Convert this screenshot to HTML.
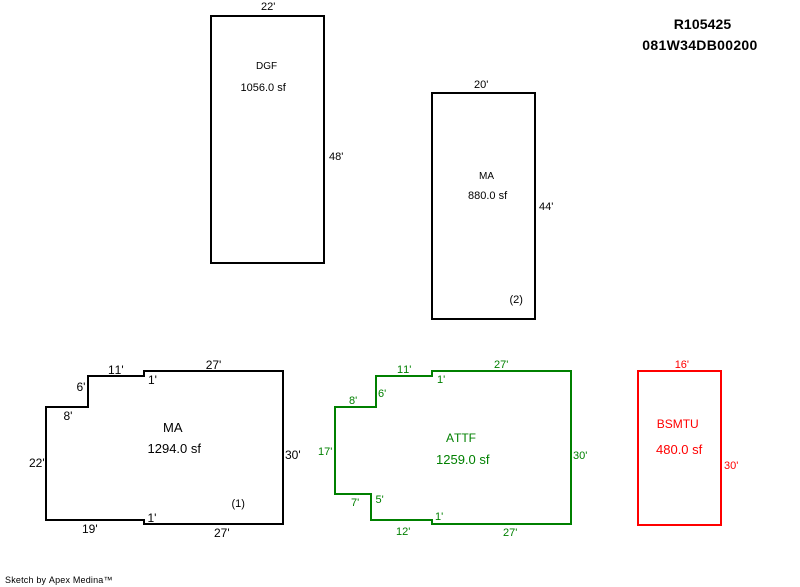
<!DOCTYPE html>
<html>
<head>
<meta charset="utf-8">
<style>
html,body{margin:0;padding:0;background:#fff}
svg{display:block}
text{font-family:"Liberation Sans",Arial,sans-serif;font-size:11px;fill:#000;white-space:pre;font-kerning:none}
.s{font-size:10px}
.m{font-size:12px}
.l{font-size:13px}
.g text{fill:#008000}
.r text{fill:#ff0000}
.t{font-size:14px;font-weight:bold}
.f{font-size:9px}
polygon{fill:none;stroke-width:2;shape-rendering:crispEdges}
</style>
</head>
<body>
<svg width="800" height="587" viewBox="0 0 800 587" xmlns="http://www.w3.org/2000/svg">
<rect width="800" height="587" fill="#fff"/>

<polygon points="211,16 324,16 324,263 211,263" stroke="#000"/>
<text x="261" y="10">22'</text>
<text x="329" y="160">48'</text>
<text class="s" x="256" y="69">DGF</text>
<text x="240.5" y="91">1056.0 sf</text>

<polygon points="432,93 535,93 535,319 432,319" stroke="#000"/>
<text x="474" y="88">20'</text>
<text x="539" y="210">44'</text>
<text class="s" x="479" y="179">MA</text>
<text x="468" y="199">880.0 sf</text>
<text x="509.5" y="303">(2)</text>

<text class="t" x="673.7" y="29" textLength="57.5">R105425</text>
<text class="t" x="642.3" y="50" textLength="115">081W34DB00200</text>

<polygon points="46,407 88,407 88,376 144,376 144,371 283,371 283,524 144,524 144,520 46,520" stroke="#000"/>
<text class="m" x="205.7" y="369">27'</text>
<text class="m" x="108" y="374">11'</text>
<text class="m" x="76.5" y="391">6'</text>
<text class="m" x="63.5" y="420">8'</text>
<text class="m" x="148" y="384">1'</text>
<text class="m" x="29" y="467">22'</text>
<text class="m" x="82" y="533">19'</text>
<text class="m" x="147.5" y="522">1'</text>
<text class="m" x="214" y="537">27'</text>
<text class="m" x="285" y="459">30'</text>
<text class="l" x="163" y="432">MA</text>
<text class="l" x="147.5" y="453">1294.0 sf</text>
<text x="231.5" y="507">(1)</text>

<g class="g">
<polygon points="335,407 376,407 376,376 432,376 432,371 571,371 571,524 432,524 432,520 371,520 371,494 335,494" stroke="#008000"/>
<text x="494" y="368">27'</text>
<text x="397" y="373">11'</text>
<text x="437" y="383">1'</text>
<text x="378" y="397">6'</text>
<text x="349" y="404">8'</text>
<text x="318" y="455">17'</text>
<text x="351" y="506">7'</text>
<text x="375.5" y="503">5'</text>
<text x="435" y="520">1'</text>
<text x="396" y="535">12'</text>
<text x="503" y="536">27'</text>
<text x="573" y="459">30'</text>
<text class="m" x="446" y="442">ATTF</text>
<text class="l" x="436" y="464">1259.0 sf</text>
</g>

<g class="r">
<polygon points="638,371 721,371 721,525 638,525" stroke="#ff0000"/>
<text x="674.7" y="368">16'</text>
<text x="724" y="469">30'</text>
<text class="m" x="656.7" y="428">BSMTU</text>
<text class="l" x="656" y="454">480.0 sf</text>
</g>

<text class="f" x="5" y="583" textLength="107.5">Sketch by Apex Medina™</text>
</svg>
</body>
</html>
